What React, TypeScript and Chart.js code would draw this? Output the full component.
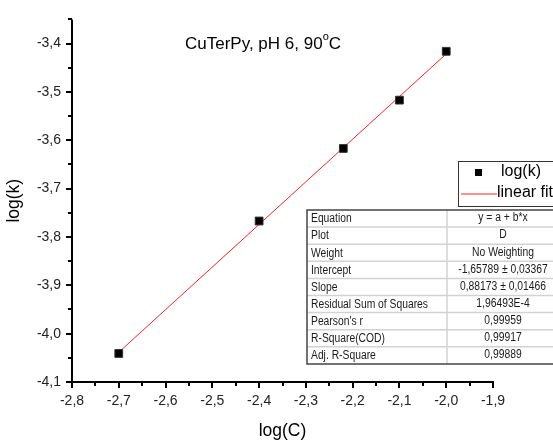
import { useEffect, useRef } from "react";
import { Chart, registerables } from "chart.js";

Chart.register(...registerables);

// Measured data: log of rate constant vs log of concentration
const logC = [-2.7, -2.4, -2.22, -2.1, -2.0];
const logK = [-4.041, -3.767, -3.617, -3.517, -3.416];

// Linear fit parameters (y = a + b*x)
const fitIntercept = -1.65789;
const fitSlope = 0.88173;
const fitFrom = -2.7;
const fitTo = -2.0;

// Axis bounds and major ticks
const xMin = -2.8;
const xMax = -1.9;
const yMin = -4.1;
const yMax = -3.35;
const xTicks = [-2.8, -2.7, -2.6, -2.5, -2.4, -2.3, -2.2, -2.1, -2.0, -1.9];
const yTicks = [-4.1, -4.0, -3.9, -3.8, -3.7, -3.6, -3.5, -3.4];

// Fit statistics table
const statNames = [
  "Equation",
  "Plot",
  "Weight",
  "Intercept",
  "Slope",
  "Residual Sum of Squares",
  "Pearson's r",
  "R-Square(COD)",
  "Adj. R-Square",
];
const statValues = [
  "y = a + b*x",
  "D",
  "No Weighting",
  "-1,65789 ± 0,03367",
  "0,88173 ± 0,01466",
  "1,96493E-4",
  "0,99959",
  "0,99917",
  "0,99889",
];

const FONT = "'Liberation Sans', Arial, sans-serif";
const FIT_COLOR = "#ff2020";
const fmt = (v: number) => Number(v).toFixed(1).replace(".", ",");

const midpoints = (arr: number[]) => arr.slice(1).map((v, i) => (v + arr[i]) / 2);

const decor = {
  id: "decor",
  afterDraw(chart: any) {
    const ctx: CanvasRenderingContext2D = chart.ctx;
    const { left, right, top, bottom } = chart.chartArea;
    const xs = chart.scales.x;
    const ys = chart.scales.y;
    ctx.save();

    // axis lines
    ctx.strokeStyle = "#000";
    ctx.lineWidth = 2;
    ctx.beginPath();
    ctx.moveTo(left, top);
    ctx.lineTo(left, bottom + 1);
    ctx.moveTo(left - 1, bottom);
    ctx.lineTo(right + 1, bottom);
    ctx.stroke();

    // ticks (major + minor)
    const yMinor = [...midpoints(yTicks), yMax];
    const xMinor = midpoints(xTicks);
    ctx.beginPath();
    yTicks.forEach((v) => {
      const p = Math.round(ys.getPixelForValue(v));
      ctx.moveTo(left - 6, p);
      ctx.lineTo(left, p);
    });
    yMinor.forEach((v) => {
      const p = Math.round(ys.getPixelForValue(v));
      ctx.moveTo(left - 4, p);
      ctx.lineTo(left, p);
    });
    xTicks.forEach((v) => {
      const p = Math.round(xs.getPixelForValue(v));
      ctx.moveTo(p, bottom);
      ctx.lineTo(p, bottom + 6);
    });
    xMinor.forEach((v) => {
      const p = Math.round(xs.getPixelForValue(v));
      ctx.moveTo(p, bottom);
      ctx.lineTo(p, bottom + 4);
    });
    ctx.stroke();

    // title with superscript degree
    ctx.fillStyle = "#000";
    ctx.textBaseline = "alphabetic";
    ctx.textAlign = "left";
    ctx.font = `17px ${FONT}`;
    const t1 = "CuTerPy, pH 6, 90";
    let tx = 185;
    ctx.fillText(t1, tx, 48.5);
    tx += ctx.measureText(t1).width;
    ctx.font = `11px ${FONT}`;
    ctx.fillText("o", tx, 40);
    tx += ctx.measureText("o").width;
    ctx.font = `17px ${FONT}`;
    ctx.fillText("C", tx, 48.5);

    // legend
    const ds = chart.data.datasets;
    ctx.fillStyle = "#fff";
    ctx.fillRect(458.5, 161.5, 110, 45);
    ctx.strokeStyle = "#333";
    ctx.lineWidth = 1;
    ctx.strokeRect(458.5, 161.5, 110, 45);
    ctx.fillStyle = "#000";
    ctx.fillRect(475, 169, 7, 7);
    ctx.strokeStyle = FIT_COLOR;
    ctx.lineWidth = 1.2;
    ctx.beginPath();
    ctx.moveTo(461, 194);
    ctx.lineTo(497, 194);
    ctx.stroke();
    ctx.fillStyle = "#000";
    ctx.font = `16px ${FONT}`;
    ctx.textBaseline = "middle";
    ctx.fillText(ds[0].label, 501, 172);
    ctx.fillText(ds[1].label, 497, 193);

    // statistics table
    const tLeft = 307;
    const tTop = 210;
    const rowH = 17.1;
    const colX = 447;
    const tRight = 562;
    const tBottom = tTop + rowH * statNames.length;
    ctx.fillStyle = "#fff";
    ctx.fillRect(tLeft, tTop, tRight - tLeft, tBottom - tTop);
    ctx.strokeStyle = "#d2d2d2";
    ctx.lineWidth = 1.5;
    ctx.beginPath();
    for (let i = 1; i < statNames.length; i++) {
      const y = tTop + rowH * i;
      ctx.moveTo(tLeft, y);
      ctx.lineTo(tRight, y);
    }
    ctx.moveTo(colX, tTop);
    ctx.lineTo(colX, tBottom);
    ctx.stroke();
    ctx.strokeStyle = "#444";
    ctx.lineWidth = 1.5;
    ctx.beginPath();
    ctx.moveTo(tRight, tTop);
    ctx.lineTo(tLeft, tTop);
    ctx.lineTo(tLeft, tBottom);
    ctx.lineTo(tRight, tBottom);
    ctx.stroke();

    ctx.fillStyle = "#1a1a1a";
    ctx.font = `12px ${FONT}`;
    ctx.textBaseline = "middle";
    const sx = 0.86;
    statNames.forEach((name, i) => {
      const cy = tTop + rowH * i + rowH / 2 + 0.5;
      ctx.save();
      ctx.translate(311, cy);
      ctx.scale(sx, 1);
      ctx.textAlign = "left";
      ctx.fillText(name, 0, 0);
      ctx.restore();
      ctx.save();
      ctx.translate(503, cy - 1);
      ctx.scale(sx, 1);
      ctx.textAlign = "center";
      ctx.fillText(statValues[i], 0, 0);
      ctx.restore();
    });

    ctx.restore();
  },
};

export default function App() {
  const ref = useRef<HTMLCanvasElement | null>(null);

  useEffect(() => {
    if (!ref.current) return;
    const points = logC.map((x, i) => ({ x, y: logK[i] }));
    const fit = [fitFrom, fitTo].map((x) => ({ x, y: fitIntercept + fitSlope * x }));
    const tickFont = { family: FONT, size: 14 };

    const chart = new Chart(ref.current, {
      type: "scatter",
      data: {
        datasets: [
          {
            label: "log(k)",
            data: points,
            pointStyle: "rect",
            pointRadius: 5.5,
            backgroundColor: "#000",
            borderColor: "#333",
            borderWidth: 1,
            showLine: false,
            order: 1,
          },
          {
            label: "linear fit",
            data: fit,
            showLine: true,
            borderColor: FIT_COLOR,
            borderWidth: 1,
            pointRadius: 0,
            order: 2,
          },
        ],
      },
      options: {
        responsive: false,
        animation: false,
        devicePixelRatio: 1,
        layout: { padding: { top: 10, right: 60, left: 0, bottom: 0 } },
        plugins: {
          legend: { display: false },
          tooltip: { enabled: false },
        },
        scales: {
          x: {
            type: "linear",
            min: xMin,
            max: xMax,
            afterBuildTicks: (s: any) => {
              s.ticks = xTicks.map((value) => ({ value }));
            },
            afterFit: (s: any) => {
              s.height = 63;
            },
            grid: { display: false, drawTicks: false },
            border: { display: false },
            ticks: {
              font: tickFont,
              color: "#222",
              padding: 11,
              maxRotation: 0,
              autoSkip: false,
              callback: (v: any) => fmt(v),
            },
            title: {
              display: true,
              text: "log(C)",
              color: "#000",
              font: { family: FONT, size: 17.5 },
              padding: { top: 0, bottom: 3 },
            },
          },
          y: {
            type: "linear",
            min: yMin,
            max: yMax,
            afterBuildTicks: (s: any) => {
              s.ticks = yTicks.map((value) => ({ value }));
            },
            afterFit: (s: any) => {
              s.width = 72;
            },
            grid: { display: false, drawTicks: false },
            border: { display: false },
            ticks: {
              font: tickFont,
              color: "#222",
              padding: 11,
              autoSkip: false,
              callback: (v: any) => fmt(v),
            },
            title: {
              display: true,
              text: "log(k)",
              color: "#000",
              font: { family: FONT, size: 17.5 },
              padding: { top: 4, bottom: 0 },
            },
          },
        },
      },
      plugins: [decor],
    });
    return () => chart.destroy();
  }, []);

  return (
    <div style={{ position: "absolute", left: 0, top: 0, width: 553, height: 445, background: "#fff" }}>
      <canvas ref={ref} width={553} height={445} style={{ display: "block" }} />
    </div>
  );
}
